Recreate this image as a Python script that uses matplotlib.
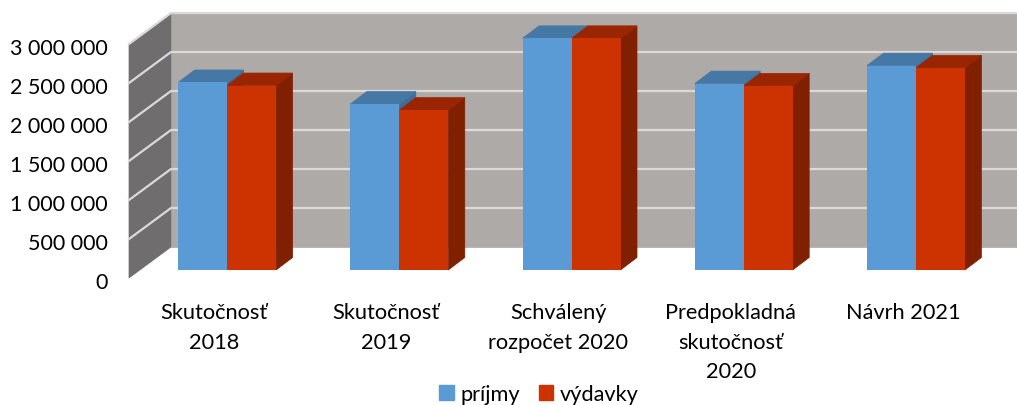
import matplotlib
matplotlib.use("Agg")
import matplotlib.pyplot as plt
from matplotlib.patches import Patch, Polygon
from matplotlib.transforms import Affine2D

# data
categories = ["Skutočnosť\n2018", "Skutočnosť\n2019", "Schválený\nrozpočet 2020",
              "Predpokladná\nskutočnosť\n2020", "Návrh 2021"]
prijmy = [2404000, 2128000, 2970000, 2390000, 2620000]
vydavky = [2365000, 2050000, 2970000, 2360000, 2590000]
y_ticks = [0, 500000, 1000000, 1500000, 2000000, 2500000, 3000000]
y_labels = ["0", "500 000", "1 000 000", "1 500 000", "2 000 000", "2 500 000", "3 000 000"]

BLUE, BLUE_TOP, BLUE_SIDE = "#5b9bd5", "#4678a6", "#3f6d97"
RED, RED_TOP, RED_SIDE = "#cc3300", "#992600", "#802000"
WALL, SIDE_WALL, GRID = "#aeaaa8", "#6f6d6d", "#dcdad9"

plt.rcParams["font.family"] = ["Lato", "DejaVu Sans"]

W, H = 1017, 406
fig = plt.figure(figsize=(W / 100, H / 100), dpi=100)
# axes = the plane the bars stand in, in pixels of the figure
left, right, bottom, top = 141, 1002, 271, 37
ax = fig.add_axes([left / W, 1 - bottom / H, (right - left) / W, (bottom - top) / H])
ax.set_xlim(-0.5, 4.5)
ax.set_ylim(0, 3000000)
for s in ax.spines.values():
    s.set_visible(False)
ax.patch.set_visible(False)

px = (right - left) / 5  # pixels per category
py = (bottom - top) / 3000000  # pixels per unit


def shift(x, y, dx, dy):
    """move a data point by some pixels (dy up)"""
    return (x + dx / px, y + dy / py)


def poly(points, color, z, **kw):
    ax.add_patch(Polygon(points, closed=True, facecolor=color, edgecolor=color, lw=0.5,
                         zorder=z, clip_on=False, **kw))


# walls
x0, x1 = -0.5, 4.7
front = (-12, -8)
back = (30, 23)
poly([shift(x0, 0, *back), shift(x1, 0, *back), shift(x1, 3000000, *back), shift(x0, 3000000, *back)], WALL, 1)
poly([shift(x0, 0, *front), shift(x0, 0, *back), shift(x0, 3000000, *back), shift(x0, 3000000, *front)], SIDE_WALL, 1)
for v in y_ticks[1:]:
    a, b, c = shift(x0, v, *front), shift(x0, v, *back), shift(x1, v, *back)
    ax.plot([a[0], b[0], c[0]], [a[1], b[1], c[1]], color=GRID, lw=1.6, zorder=2, clip_on=False)

# bars
w = 49 / px
depth = (16.5, 12.5)
for i in range(len(categories)):
    for off, val, col, top_col, side_col, z in [(-w, prijmy[i], BLUE, BLUE_TOP, BLUE_SIDE, 3),
                                                (0, vydavky[i], RED, RED_TOP, RED_SIDE, 4)]:
        l = i + off
        r = l + w
        poly([(r, 0), shift(r, 0, *depth), shift(r, val, *depth), (r, val)], side_col, z)
        poly([(l, val), (r, val), shift(r, val, *depth), shift(l, val, *depth)], top_col, z)
for i in range(len(categories)):
    ax.bar(i - w, prijmy[i], w, align="edge", color=BLUE, zorder=5)
    ax.bar(i, vydavky[i], w, align="edge", color=RED, zorder=5)

# tick labels, moved to where the front of the 3d box is
ax.set_yticks(y_ticks)
ax.set_yticklabels(y_labels, fontsize=15.5, color="#000000")
ax.set_xticks(range(len(categories)))
ax.set_xticklabels(categories, fontsize=15.7, color="#000000", linespacing=1.6)
ax.tick_params(axis="both", length=0)
ax.tick_params(axis="y", pad=24)
ax.tick_params(axis="x", pad=23)
for lab in ax.get_yticklabels():
    lab.set_transform(lab.get_transform() + Affine2D().translate(0, -10))
for lab in ax.get_xticklabels():
    lab.set_transform(lab.get_transform() + Affine2D().translate(-13, 0))

leg = fig.legend(handles=[Patch(color=BLUE, label="príjmy"), Patch(color=RED, label="výdavky")],
                 ncol=2, frameon=False, fontsize=15.7, loc="center",
                 bbox_to_anchor=(539 / W, 1 - 395 / H), handlelength=0.68, handleheight=0.68,
                 handletextpad=0.3, columnspacing=0.85, borderpad=0)

fig.savefig("out.png", dpi=100)
